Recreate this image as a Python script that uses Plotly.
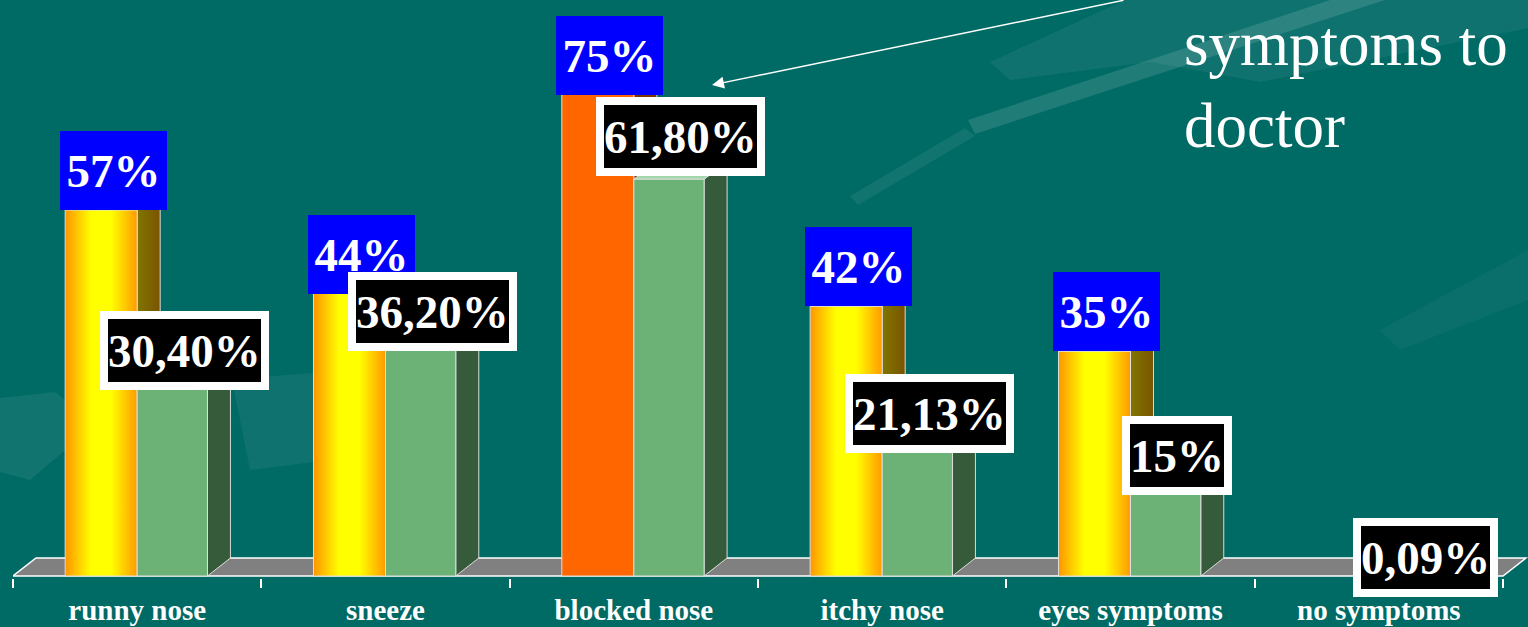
import plotly.graph_objects as go

# ---------------- data ----------------
categories = ["runny nose", "sneeze", "blocked nose", "itchy nose", "eyes symptoms", "no symptoms"]
reported = [57, 44, 75, 42, 35, None]                  # orange series (%)
told_doctor = [30.40, 36.20, 61.80, 21.13, 15, 0.09]   # green series (%)
reported_labels = ["57%", "44%", "75%", "42%", "35%", ""]
doctor_labels = ["30,40%", "36,20%", "61,80%", "21,13%", "15%", "0,09%"]
highlight = "blocked nose"
title_lines = ["symptoms to", "doctor"]

# ---------------- geometry / style ----------------
W, H = 1528, 627
ML, MB = 13, 49
PX_PER_CAT = 248.33
PX_PER_PCT = 6.42
plot_w = W - ML
plot_h = H - MB
x_range = [-0.5, -0.5 + plot_w / PX_PER_CAT]
y_range = [-2 / PX_PER_PCT, (plot_h - 2) / PX_PER_PCT]

DX = 23 / PX_PER_CAT      # 3D depth, horizontal
DY = 18 / PX_PER_PCT      # 3D depth, vertical
OW = 0.29                 # orange bar width (category units)
GW = 0.283                # green bar width

BG = "#006a65"
EDGE = dict(color="rgba(225,225,225,0.95)", width=1)
SERIF = "Liberation Serif, Times New Roman, serif"

fig = go.Figure()


def poly(xs, ys, **kw):
    fig.add_trace(go.Scatter(x=xs, y=ys, mode="lines", fill="toself", line=EDGE,
                             hoverinfo="skip", showlegend=False, **kw))


def bar3d(x0, x1, v, front_kw, side_kw, top_kw):
    # side face
    poly([x1, x1 + DX, x1 + DX, x1, x1], [0, DY, v + DY, v, 0], **side_kw)
    # top face
    poly([x0, x1, x1 + DX, x0 + DX, x0], [v, v, v + DY, v + DY, v], **top_kw)
    # front face
    poly([x0, x1, x1, x0, x0], [0, 0, v, v, 0], **front_kw)


orange_grad = dict(type="horizontal",
                   colorscale=[[0, "#ff9500"], [0.36, "#ffff00"], [0.64, "#ffff00"], [1, "#ff9a00"]])
side_grad = dict(type="horizontal", colorscale=[[0, "#807600"], [1, "#7a5400"]])

for i, cat in enumerate(categories):
    v1 = reported[i]
    v2 = told_doctor[i]
    if v1 is not None:
        if cat == highlight:
            bar3d(i - OW, i, v1,
                  dict(fillcolor="#ff6600"), dict(fillcolor="#7f3300"), dict(fillcolor="#ff9a55"))
        else:
            bar3d(i - OW, i, v1,
                  dict(fillgradient=orange_grad), dict(fillgradient=side_grad),
                  dict(fillcolor="#ffd24d"))
    bar3d(i, i + GW, v2,
          dict(fillcolor="#6cb276"), dict(fillcolor="#365b3b"), dict(fillcolor="#a3d6ab"))

# floor
fig.add_shape(type="path", xref="x", yref="y", layer="below",
              path=f"M -0.5,0 L 5.5,0 L {5.5 + DX},{DY} L {-0.5 + DX},{DY} Z",
              fillcolor="#808080", line=dict(color="white", width=1.5))

# background streaks (decoration) in pixel space -> paper
def px_path(points):
    pts = [((x - ML) / plot_w, 1 - y / plot_h) for x, y in points]
    return "M " + " L ".join(f"{a:.4f},{b:.4f}" for a, b in pts) + " Z"

streaks = [
    ([(968, 120), (1330, 0), (1385, 0), (975, 134)], 0.12),
    ([(990, 62), (1125, 0), (1528, 0), (1528, 28), (1260, 82), (1150, 62), (1010, 80)], 0.06),
    ([(850, 196), (965, 128), (975, 136), (858, 205)], 0.07),
    ([(0, 398), (55, 392), (95, 425), (30, 480), (0, 472)], 0.07),
    ([(232, 380), (320, 372), (330, 460), (250, 470)], 0.06),
    ([(1380, 330), (1528, 250), (1528, 300), (1400, 350)], 0.04),
]
for pts, op in streaks:
    fig.add_shape(type="path", xref="paper", yref="paper", layer="below",
                  path=px_path(pts), fillcolor=f"rgba(255,255,255,{op})", line=dict(width=0))

# ---------------- labels ----------------
ann = []
for i, v in enumerate(reported):
    if v is None:
        continue
    ann.append(dict(x=i - 24 / PX_PER_CAT, y=v, xref="x", yref="y", yanchor="bottom",
                    xanchor="center", text=reported_labels[i], showarrow=False,
                    bgcolor="#0000ff", width=107, height=79, borderpad=0, borderwidth=0,
                    font=dict(family=SERIF, size=47, color="white", weight="bold")))
for i, v in enumerate(told_doctor):
    ann.append(dict(x=i + 47 / PX_PER_CAT, y=v, xref="x", yref="y", yanchor="middle",
                    xanchor="center", yshift=18 + 0.4 * v, text=doctor_labels[i],
                    showarrow=False, bgcolor="black", bordercolor="white", borderwidth=8,
                    borderpad=0, height=63,
                    font=dict(family=SERIF, size=47, color="white", weight="bold")))

# arrow pointing at the blocked-nose bar
ann.append(dict(x=-0.5 + (712 - ML) / PX_PER_CAT, y=(576 - 85) / PX_PER_PCT, xref="x", yref="y",
                text="", showarrow=True, ax=413, ay=-88, arrowcolor="white",
                arrowwidth=1.5, arrowhead=2, arrowsize=1.6))

# title text
ann.append(dict(x=(1182 - ML) / plot_w, y=1 - 7 / plot_h, xref="paper", yref="paper",
                xanchor="left", yanchor="top", align="left", showarrow=False,
                text="<br>".join(title_lines),
                font=dict(family=SERIF, size=63, color="white")))

fig.update_layout(
    width=W, height=H,
    margin=dict(l=ML, r=0, t=0, b=MB),
    paper_bgcolor=BG, plot_bgcolor=BG,
    annotations=ann,
    showlegend=False,
    xaxis=dict(range=x_range, tickvals=list(range(len(categories))), ticktext=categories,
               ticks="", showgrid=False, zeroline=False, showline=False,
               ticklabelstandoff=12,
               tickfont=dict(family=SERIF, size=29, color="white", weight="bold"),
               minor=dict(tickvals=[i - 0.5 for i in range(len(categories) + 1)],
                          ticks="outside", ticklen=9, tickcolor="white", tickwidth=1.5,
                          showgrid=False),
               fixedrange=True),
    yaxis=dict(range=y_range, visible=False, fixedrange=True),
)

fig.write_html("out.html", config={"displayModeBar": False},
               post_script="document.body.style.margin='0';document.body.style.overflow='hidden';")
